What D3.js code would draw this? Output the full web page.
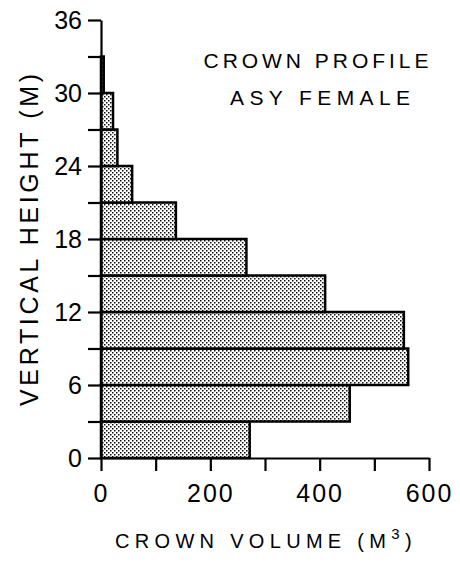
<!DOCTYPE html>
<html>
<head>
<meta charset="utf-8">
<script src="https://cdn.jsdelivr.net/npm/d3@7"></script>
<style>
  html, body { margin: 0; padding: 0; background: #fff; }
  svg { display: block; }
  text { font-family: "Liberation Sans", Arial, sans-serif; fill: #000; }
</style>
</head>
<body>
<script>
// ---- data ----
const binStarts = [0, 3, 6, 9, 12, 15, 18, 21, 24, 27, 30];
const binWidth = 3;
const volumes = [272, 455, 562, 554, 410, 266, 137, 57, 30, 22, 5];
const xTickValues = [0, 100, 200, 300, 400, 500, 600];
const xTickLabels = ["0", "", "200", "", "400", "", "600"];
const yTickValues = [0, 3, 6, 9, 12, 15, 18, 21, 24, 27, 30, 33, 36];
const yTickLabels = ["0", "", "6", "", "12", "", "18", "", "24", "", "30", "", "36"];
const titleLines = ["CROWN PROFILE", "ASY FEMALE"];
const xTitle = ["CROWN VOLUME (M", "3", ")"];
const yTitle = "VERTICAL HEIGHT (M)";

const W = 460, H = 562;
const svg = d3.select("body").append("svg").attr("width", W).attr("height", H);

const x = d3.scaleLinear().domain([0, 600]).range([101, 429]);
const y = d3.scaleLinear().domain([0, 36]).range([458, 20]);

// stipple pattern
const defs = svg.append("defs");
const pat = defs.append("pattern").attr("id", "stip")
  .attr("patternUnits", "userSpaceOnUse").attr("width", 4).attr("height", 4);
pat.append("rect").attr("width", 4).attr("height", 4).attr("fill", "#fff");
pat.append("rect").attr("x", 0).attr("y", 0).attr("width", 1.5).attr("height", 1.5).attr("fill", "#111");
pat.append("rect").attr("x", 2).attr("y", 2).attr("width", 1.5).attr("height", 1.5).attr("fill", "#111");

// bars
svg.append("g").selectAll("rect").data(binStarts).join("rect")
  .attr("x", x(0))
  .attr("y", (d) => y(d + binWidth))
  .attr("width", (d, i) => x(volumes[i]) - x(0))
  .attr("height", (d) => y(d) - y(d + binWidth))
  .attr("fill", "url(#stip)")
  .attr("stroke", "#000")
  .attr("stroke-width", 2.5);

// y axis
const yAxis = svg.append("g").attr("transform", `translate(${x(0)},0)`)
  .call(d3.axisLeft(y).tickValues(yTickValues).tickSize(13).tickSizeOuter(0)
    .tickPadding(6).tickFormat((d, i) => yTickLabels[i]));
yAxis.select(".domain").attr("stroke-width", 2.2);
yAxis.selectAll(".tick line").attr("stroke-width", 2.2);
yAxis.selectAll(".tick text").style("font-size", "25px");

// x axis
const xAxis = svg.append("g").attr("transform", `translate(0,${y(0)})`)
  .call(d3.axisBottom(x).tickValues(xTickValues).tickSize(13).tickSizeOuter(0)
    .tickPadding(13).tickFormat((d, i) => xTickLabels[i]));
xAxis.select(".domain").attr("stroke-width", 2.2);
xAxis.selectAll(".tick line").attr("stroke-width", 2.2);
xAxis.selectAll(".tick text").style("font-size", "25px").style("letter-spacing", "2px");
svg.selectAll(".tick text").attr("font-family", null).style("fill", "#000");

// title
svg.append("text").attr("x", 316).attr("y", 68).attr("text-anchor", "middle")
  .style("font-size", "21px").attr("textLength", 225).attr("lengthAdjust", "spacing")
  .text(titleLines[0]);
svg.append("text").attr("x", 320).attr("y", 105).attr("text-anchor", "middle")
  .style("font-size", "21px").attr("textLength", 180).attr("lengthAdjust", "spacing")
  .text(titleLines[1]);

// x title
const xt = svg.append("text").attr("x", 266).attr("y", 548).attr("text-anchor", "middle")
  .style("font-size", "20px").style("letter-spacing", "5.3px");
xt.append("tspan").text(xTitle[0]);
xt.append("tspan").attr("dy", -9).style("font-size", "15px").text(xTitle[1]);
xt.append("tspan").attr("dy", 9).text(xTitle[2]);

// y title
svg.append("text").attr("transform", "translate(38,240) rotate(-90)")
  .attr("text-anchor", "middle").style("font-size", "25px")
  .attr("textLength", 332).attr("lengthAdjust", "spacing")
  .text(yTitle);
</script>
</body>
</html>
